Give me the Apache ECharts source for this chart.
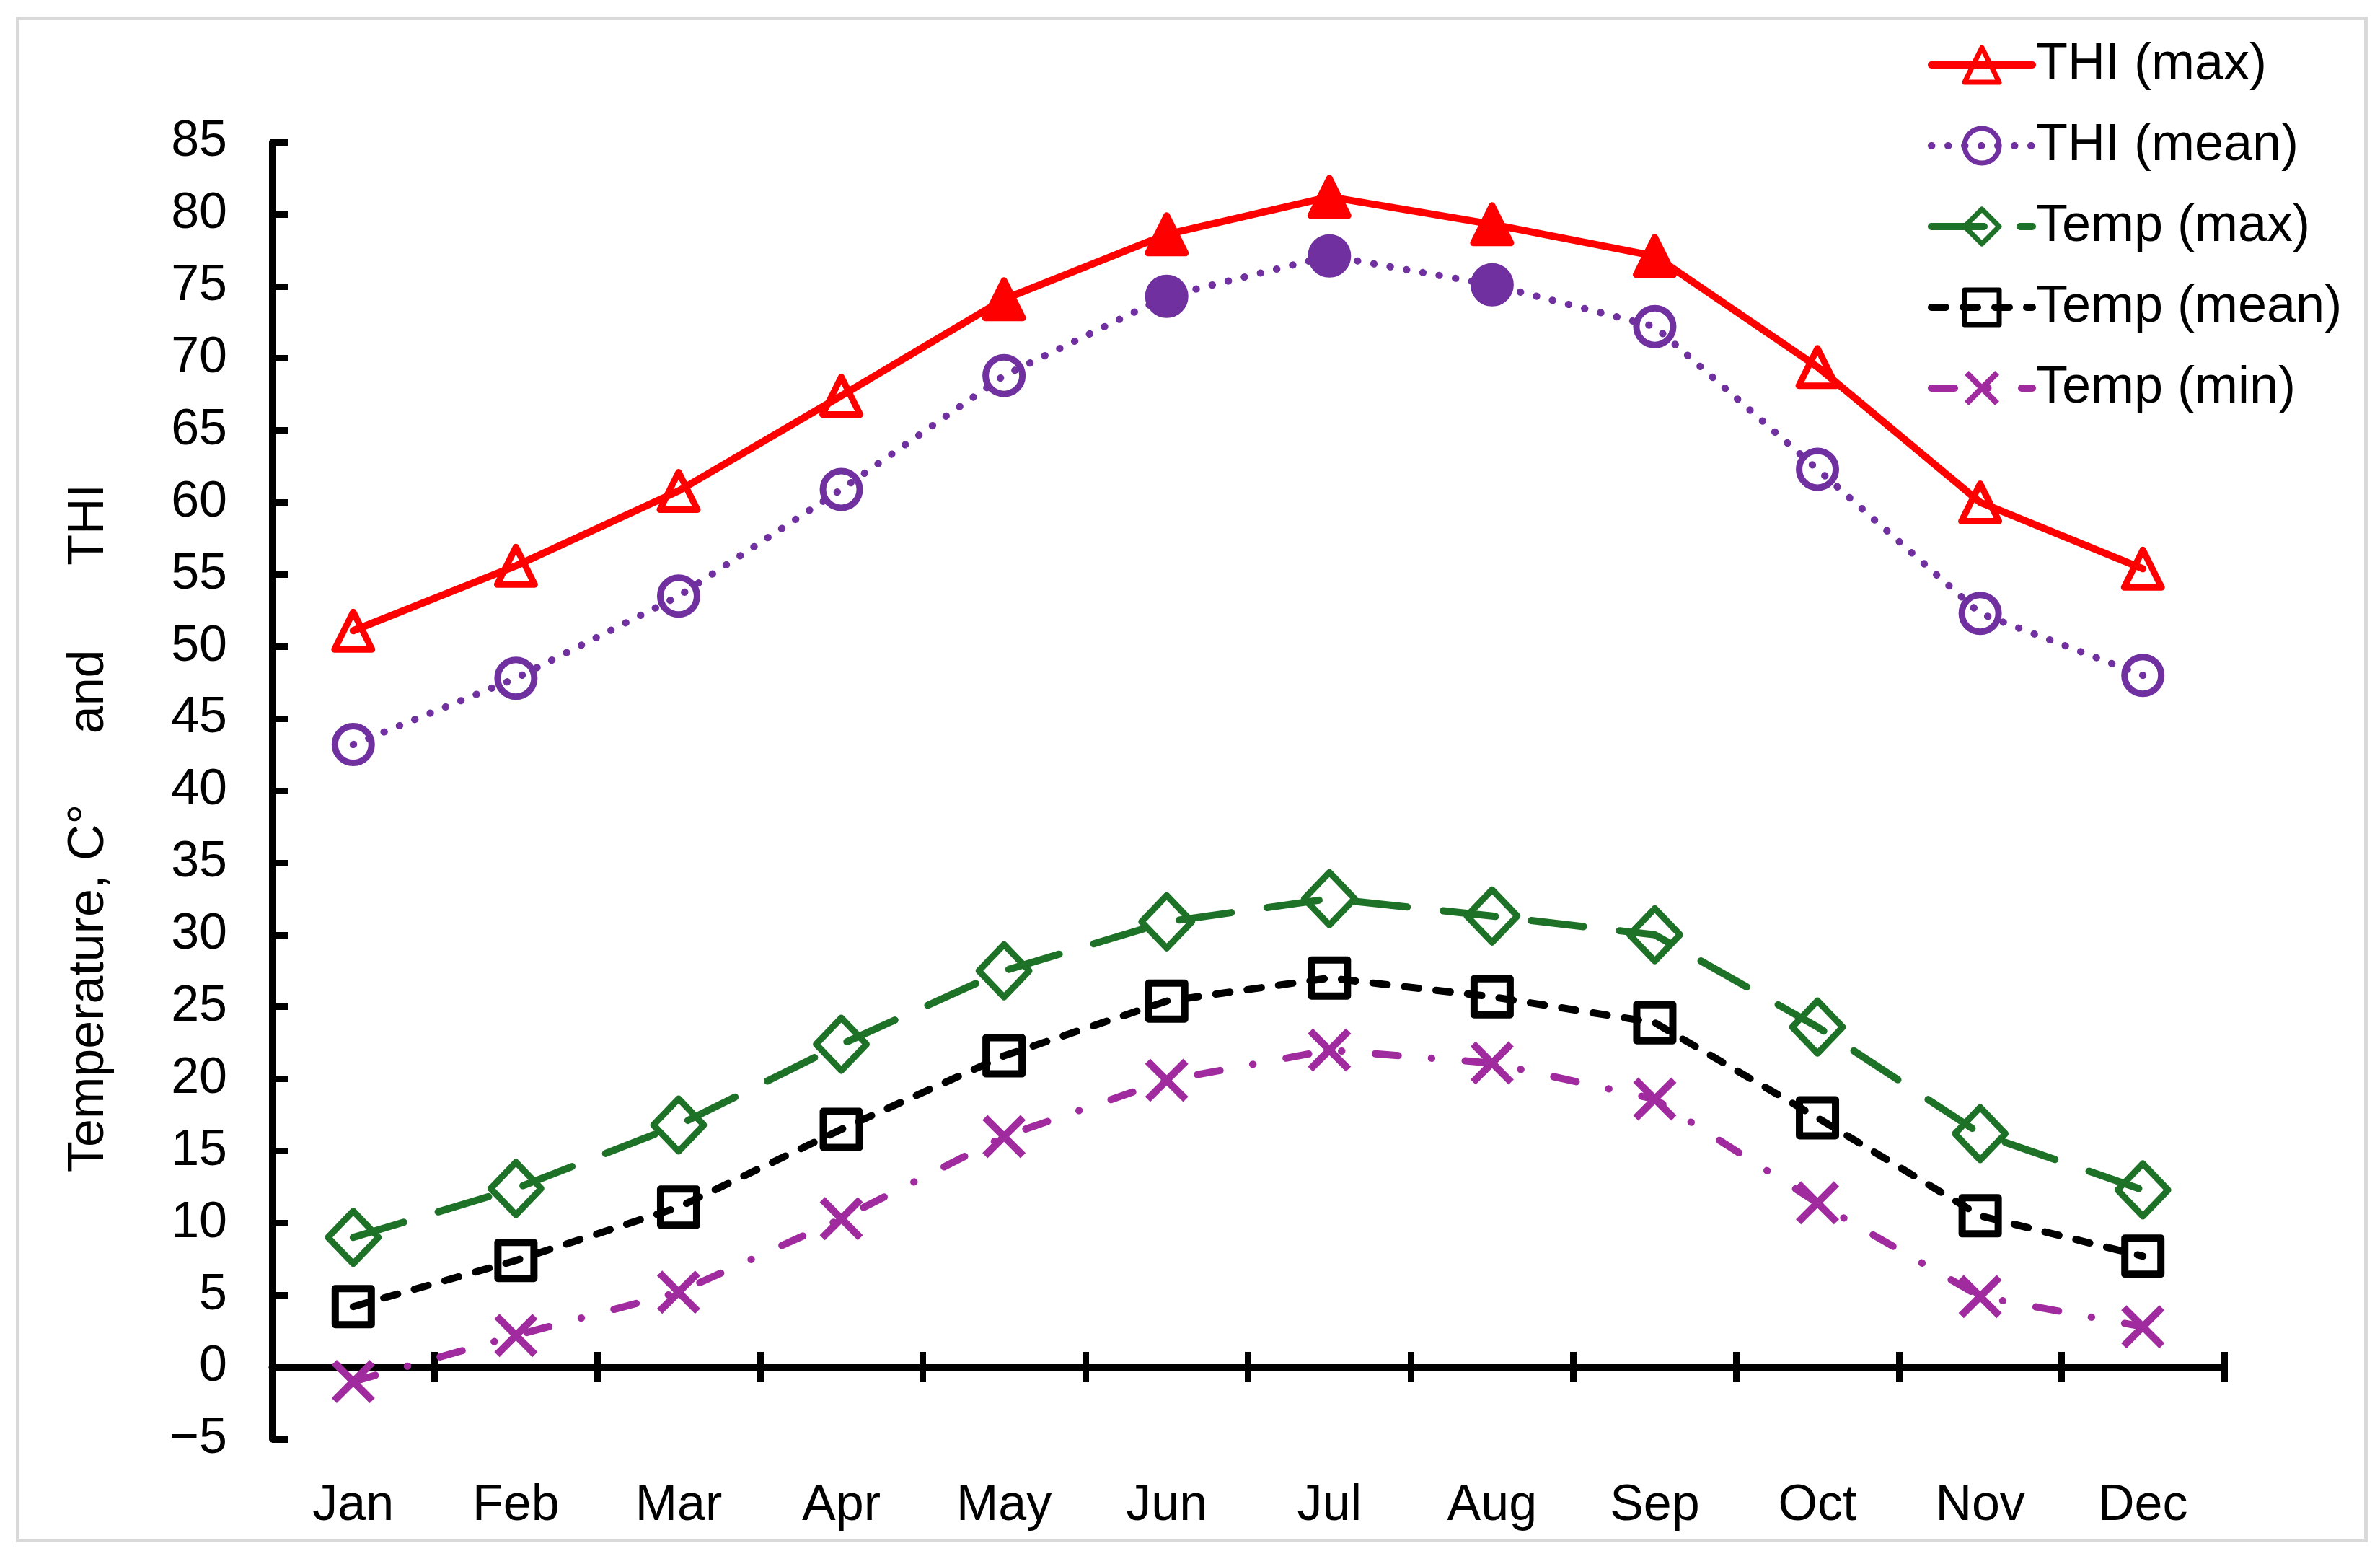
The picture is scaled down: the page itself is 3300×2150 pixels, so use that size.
<!DOCTYPE html>
<html>
<head>
<meta charset="utf-8">
<script src="https://cdn.jsdelivr.net/npm/echarts@6/dist/echarts.min.js"></script>
<style>html,body{margin:0;padding:0;background:#fff}#c{width:3300px;height:2150px}</style>
</head>
<body>
<div id="c"></div>
<script>
const months = ['Jan', 'Feb', 'Mar', 'Apr', 'May', 'Jun', 'Jul', 'Aug', 'Sep', 'Oct', 'Nov', 'Dec'];
const thiMax   = [51.1, 55.6, 60.8, 67.4, 74.1, 78.6, 81.2, 79.3, 77.1, 69.4, 60.0, 55.4];
const thiMean  = [43.2, 47.8, 53.5, 60.9, 68.8, 74.3, 77.1, 75.1, 72.2, 62.3, 52.3, 48.0];
const tempMax  = [9.0, 12.4, 16.8, 22.4, 27.5, 30.9, 32.5, 31.3, 30.0, 23.6, 16.2, 12.3];
const tempMean = [4.2, 7.4, 11.1, 16.5, 21.6, 25.4, 27.0, 25.7, 23.9, 17.3, 10.5, 7.7];
const tempMin  = [-1.0, 2.2, 5.2, 10.3, 16.0, 19.9, 22.0, 21.1, 18.6, 11.4, 4.9, 2.8];
// months whose markers are drawn filled in the reference
const thiMaxFilled  = ['May', 'Jun', 'Jul', 'Aug', 'Sep'];
const thiMeanFilled = ['Jun', 'Jul', 'Aug'];
const yMin = -5, yMax = 85, yStep = 5;

const FONT = 'Liberation Sans, Arial, sans-serif';
const RED = '#ff0000', PURPLE = '#7030a0', GREEN = '#1e7227', BLACK = '#000000', MAGENTA = '#a02b9e';
const CLEAR = 'rgba(255,255,255,0)';
const crossPath = 'path://M0,12L12,0L50,38L88,0L100,12L62,50L100,88L88,100L50,62L12,100L0,88L38,50Z';

function withFill(values, filledMonths, color) {
  return values.map((v, i) => filledMonths.indexOf(months[i]) >= 0
    ? { value: v, itemStyle: { color: color } } : v);
}

const chart = echarts.init(document.getElementById('c'), null, { renderer: 'canvas' });

const catAxisBase = { type: 'category', data: months, boundaryGap: true, gridIndex: 0 };

chart.setOption({
  animation: false,
  backgroundColor: '#ffffff',
  textStyle: { fontFamily: FONT },
  graphic: [{
    type: 'rect', left: 22, top: 23, silent: true,
    shape: { width: 3256, height: 2110 },
    style: { fill: 'none', stroke: '#d9d9d9', lineWidth: 5 }
  }],
  grid: { left: 377, right: 216, top: 197, bottom: 155, containLabel: false, outerBoundsMode: 'none' },
  legend: {
    orient: 'vertical', left: 2668, top: 49,
    itemWidth: 140, itemHeight: 60, itemGap: 40,
    itemStyle: { borderWidth: 7 },
    lineStyle: { width: 10 },
    textStyle: { fontSize: 72, color: '#000', fontFamily: FONT, lineHeight: 72 },
    selectedMode: false,
    data: ['THI (max)', 'THI (mean)', 'Temp (max)', 'Temp (mean)', 'Temp (min)']
  },
  xAxis: [
    Object.assign({}, catAxisBase, {
      position: 'bottom',
      axisLine: { show: false, onZero: false },
      axisTick: { show: false },
      axisLabel: { show: true, interval: 0, fontSize: 70, color: '#000', margin: 58, fontFamily: FONT },
      splitLine: { show: false }
    }),
    Object.assign({}, catAxisBase, {
      position: 'bottom',
      axisLine: { show: true, onZero: true, onZeroAxisIndex: 0, lineStyle: { color: '#000', width: 9 } },
      axisTick: { show: true, inside: true, length: 21, interval: 0, lineStyle: { color: '#000', width: 9 } },
      axisLabel: { show: false },
      splitLine: { show: false }
    }),
    Object.assign({}, catAxisBase, {
      position: 'bottom',
      axisLine: { show: false, onZero: true, onZeroAxisIndex: 0 },
      axisTick: { show: true, inside: false, length: 21, interval: 0, lineStyle: { color: '#000', width: 9 } },
      axisLabel: { show: false },
      splitLine: { show: false }
    })
  ],
  yAxis: [{
    type: 'value', min: yMin, max: yMax, interval: yStep,
    name: 'Temperature, C°     and      THI',
    nameLocation: 'middle', nameGap: 218,
    nameTextStyle: { fontSize: 70, color: '#000', fontFamily: FONT, padding: [0, 104, 0, 0] },
    axisLine: { show: true, lineStyle: { color: '#000', width: 9 } },
    axisTick: { show: true, inside: true, length: 22, lineStyle: { color: '#000', width: 9 } },
    axisLabel: {
      fontSize: 70, color: '#000', margin: 62, fontFamily: FONT,
      formatter: v => String(v).replace('-', '\u2212')
    },
    splitLine: { show: false }
  }],
  series: [
    {
      name: 'THI (max)', type: 'line', xAxisIndex: 0, yAxisIndex: 0, z: 6,
      data: withFill(thiMax, thiMaxFilled, RED),
      symbol: 'triangle', symbolSize: 52,
      lineStyle: { color: RED, width: 10, type: 'solid', cap: 'round', join: 'round' },
      itemStyle: { color: CLEAR, borderColor: RED, borderWidth: 9, borderJoin: 'round' },
      emphasis: { disabled: true }
    },
    {
      name: 'THI (mean)', type: 'line', xAxisIndex: 0, yAxisIndex: 0, z: 5,
      data: withFill(thiMean, thiMeanFilled, PURPLE),
      symbol: 'circle', symbolSize: 51,
      lineStyle: { color: PURPLE, width: 10, type: [0.5, 22.5], cap: 'round' },
      itemStyle: { color: CLEAR, borderColor: PURPLE, borderWidth: 9 },
      emphasis: { disabled: true }
    },
    {
      name: 'Temp (max)', type: 'line', xAxisIndex: 0, yAxisIndex: 0, z: 4,
      data: tempMax,
      symbol: 'diamond', symbolSize: [70, 73],
      lineStyle: { color: GREEN, width: 10, type: [73, 50], cap: 'round' },
      itemStyle: { color: CLEAR, borderColor: GREEN, borderWidth: 9, borderJoin: 'round' },
      emphasis: { disabled: true }
    },
    {
      name: 'Temp (mean)', type: 'line', xAxisIndex: 0, yAxisIndex: 0, z: 3,
      data: tempMean,
      symbol: 'rect', symbolSize: 50,
      lineStyle: { color: BLACK, width: 10, type: [20, 24], cap: 'round' },
      itemStyle: { color: CLEAR, borderColor: BLACK, borderWidth: 10, borderJoin: 'round' },
      emphasis: { disabled: true }
    },
    {
      name: 'Temp (min)', type: 'line', xAxisIndex: 0, yAxisIndex: 0, z: 2,
      data: tempMin,
      symbol: crossPath, symbolSize: 60, symbolKeepAspect: true,
      lineStyle: { color: MAGENTA, width: 10, type: [32, 46, 0.5, 46.5], cap: 'round' },
      itemStyle: { color: MAGENTA, borderWidth: 0 },
      emphasis: { disabled: true }
    }
  ]
});
</script>
</body>
</html>
